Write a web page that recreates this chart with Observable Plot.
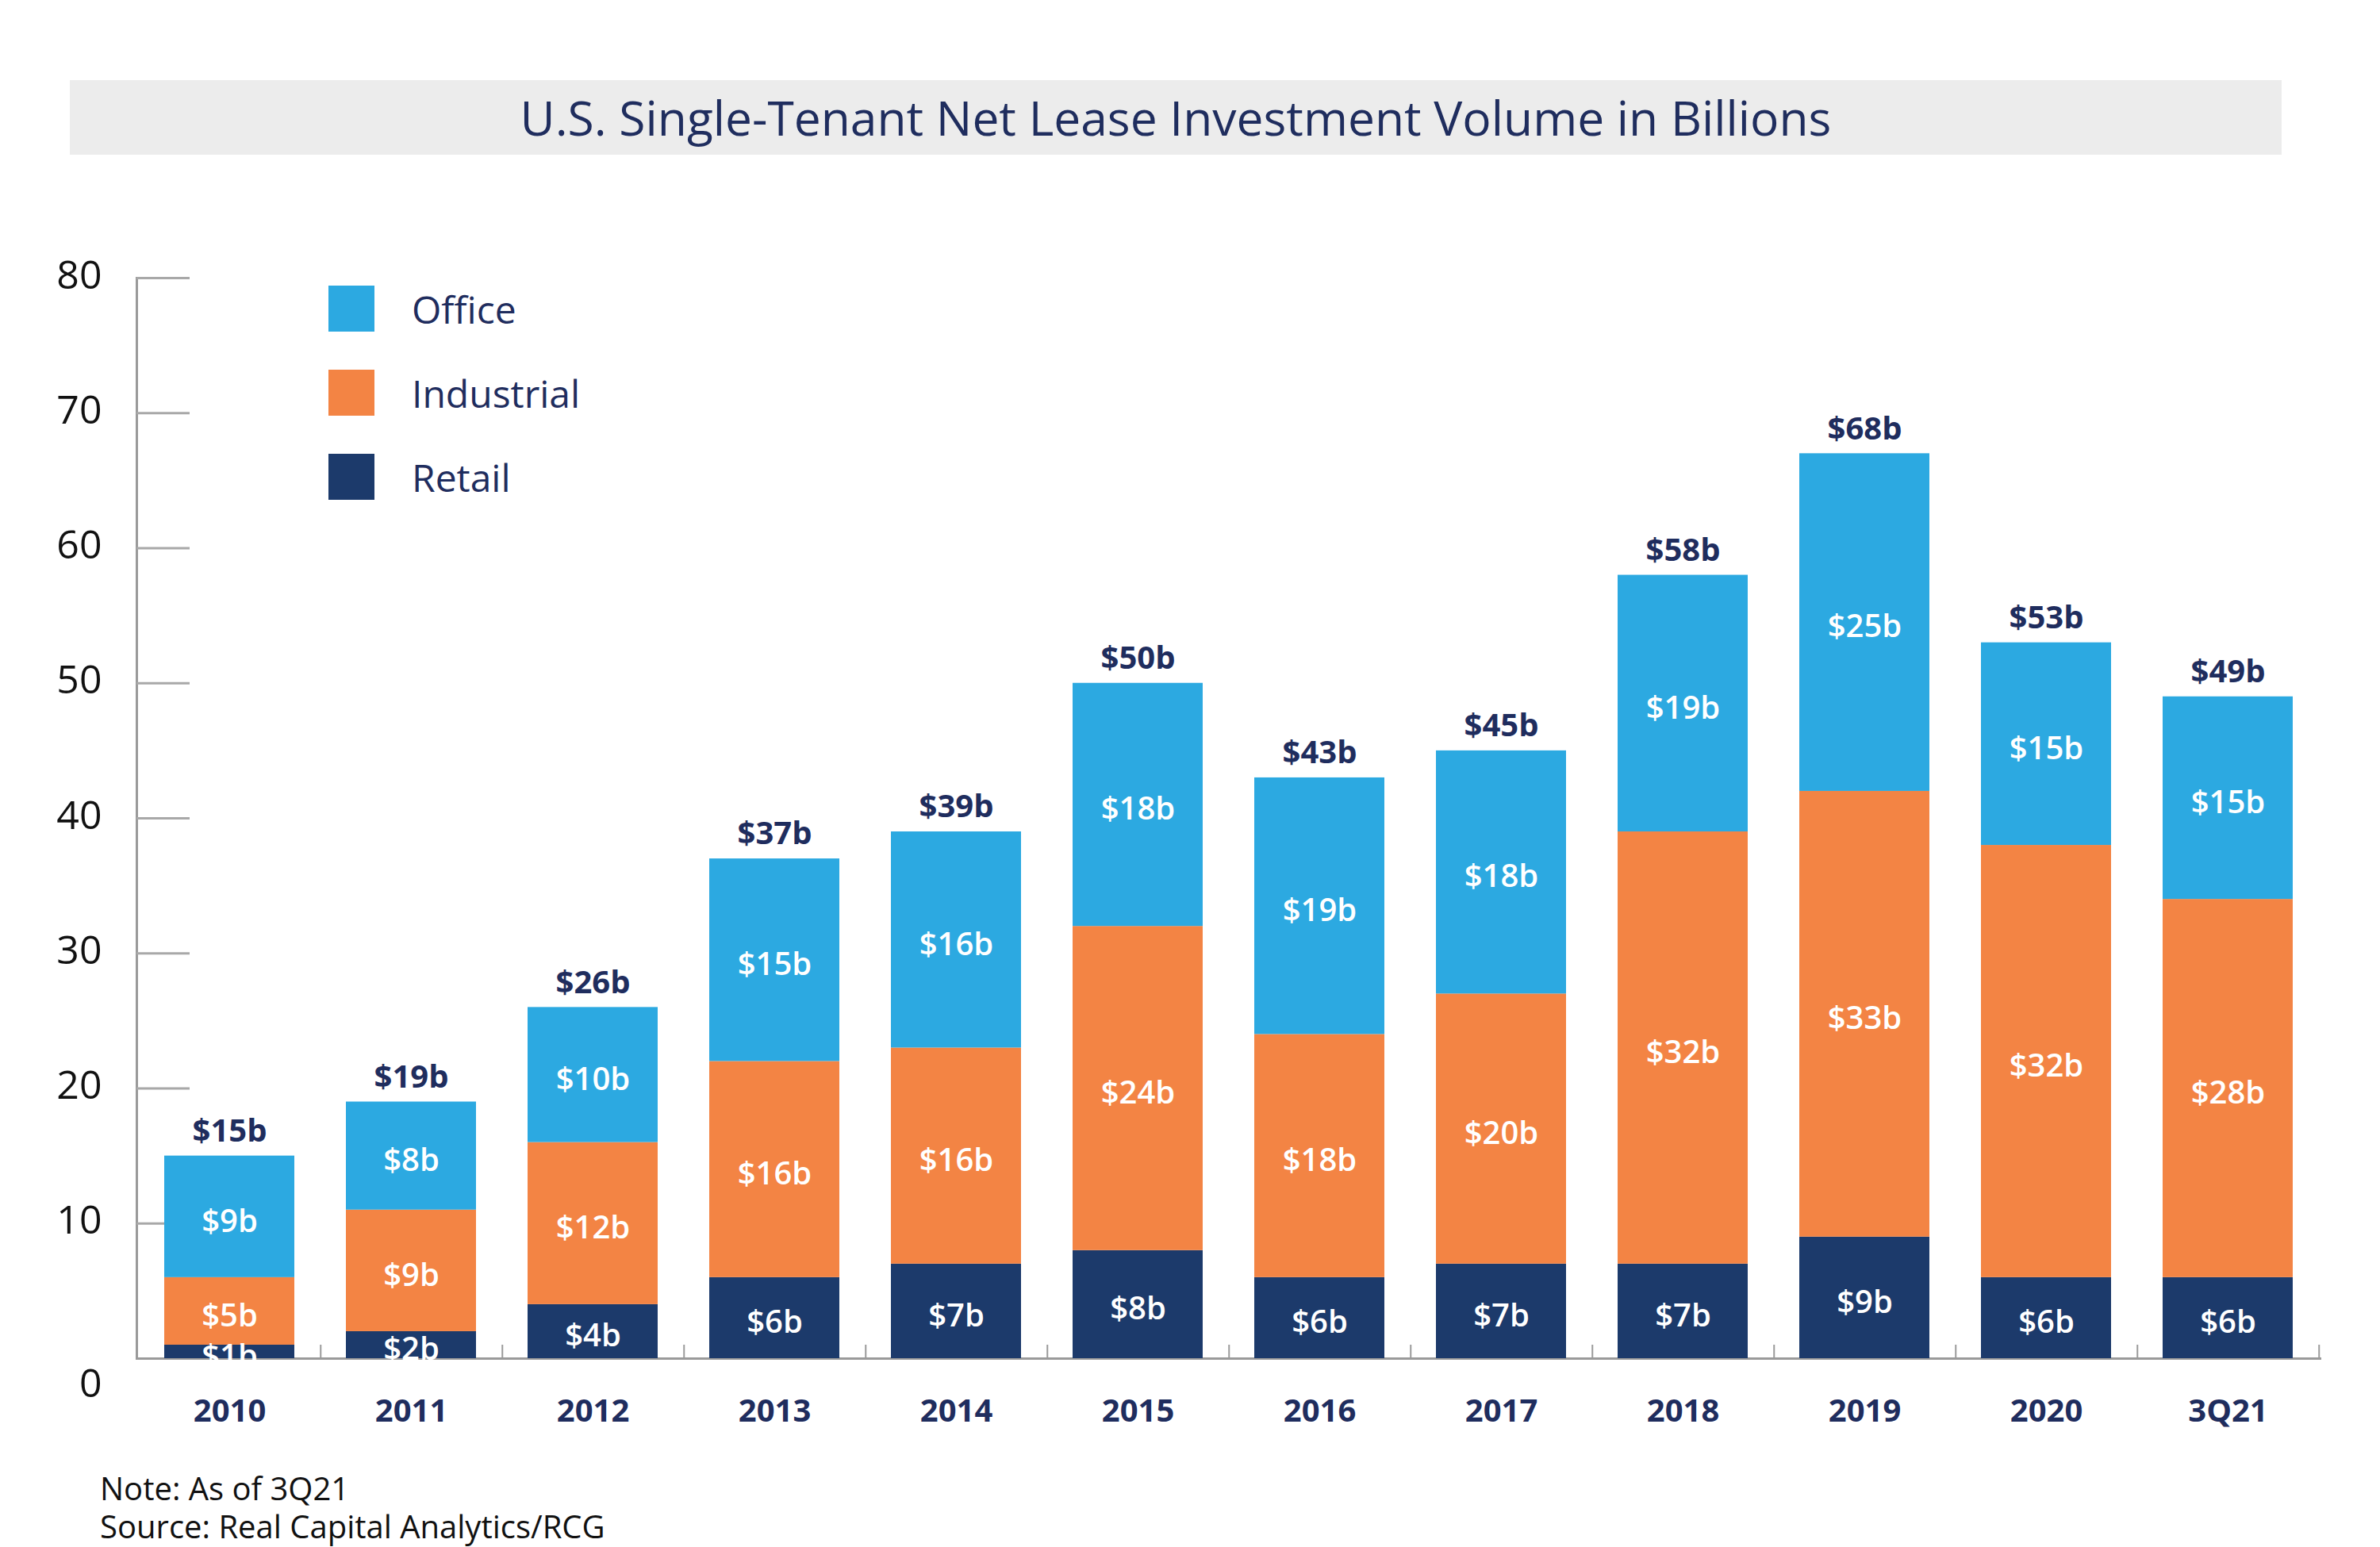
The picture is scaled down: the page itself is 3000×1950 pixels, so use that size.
<!DOCTYPE html>
<html>
<head>
<meta charset="utf-8">
<script src="https://cdn.jsdelivr.net/npm/d3@7"></script>
<script src="https://cdn.jsdelivr.net/npm/@observablehq/plot@0.6"></script>
<style>
  html, body { margin: 0; padding: 0; background: #fff; width: 3000px; height: 1950px; overflow: hidden; font-family: "Open Sans", sans-serif; }
  #title { position: absolute; left: 88px; top: 101px; width: 2788px; height: 94px; background: #ececec;
           color: #1f2d5e; font-size: 60.5px; line-height: 94px; text-align: center; }
  #chart { position: absolute; left: 0; top: 230px; }
  #legend { position: absolute; left: 414px; top: 360px; }
  .row { display: flex; align-items: center; height: 58px; margin-bottom: 48px; }
  .sw { width: 58px; height: 58px; margin-right: 47px; }
  .lt { font-size: 48px; color: #1f2d5e; }
  #notes { position: absolute; left: 126px; top: 1852px; font-size: 40px; line-height: 48px; color: #111; }
</style>
</head>
<body>
<div id="title">U.S. Single-Tenant Net Lease Investment Volume in Billions</div>
<div id="chart"></div>
<div id="legend"></div>
<div id="notes">Note: As of 3Q21<br>Source: Real Capital Analytics/RCG</div>
<script>
const categories = ["2010","2011","2012","2013","2014","2015","2016","2017","2018","2019","2020","3Q21"];
const retail     = [1, 2, 4, 6, 7, 8, 6, 7, 7, 9, 6, 6];
const industrial = [5, 9, 12, 16, 16, 24, 18, 20, 32, 33, 32, 28];
const office     = [9, 8, 10, 15, 16, 18, 19, 18, 19, 25, 15, 15];
const totals     = [15, 19, 26, 37, 39, 50, 43, 45, 58, 68, 53, 49];
const seriesNames = ["Retail", "Industrial", "Office"];
const seriesColors = ["#1c3a6b", "#f38444", "#2ca9e1"];
const legendOrder = ["Office", "Industrial", "Retail"];
const yTicks = [0, 10, 20, 30, 40, 50, 60, 70, 80];

const seriesValues = {Retail: retail, Industrial: industrial, Office: office};
const rows = [];
categories.forEach((c, i) => {
  seriesNames.forEach(s => rows.push({cat: c, type: s, value: seriesValues[s][i]}));
});
const tops = categories.map((c, i) => ({cat: c, top: retail[i] + industrial[i] + office[i], label: "$" + totals[i] + "b"}));

const navy = "#1f2d5e";
const chart = Plot.plot({
  width: 3000,
  height: 1620,
  marginTop: 120,
  marginBottom: 138,
  marginLeft: 172,
  marginRight: 74,
  style: {fontFamily: "'Open Sans', sans-serif", background: "transparent", overflow: "visible"},
  x: {domain: categories, paddingInner: 0.283, paddingOuter: 0.1415, align: 0.5, label: null},
  y: {domain: [0, 80], label: null},
  color: {domain: seriesNames, range: seriesColors},
  marks: [
    Plot.frame({anchor: "left", stroke: "#9a9a9a", strokeWidth: 3}),
    Plot.axisY({ticks: yTicks, tickSize: 67, dx: 67, tickFormat: () => "", stroke: "#a8a8a8", strokeWidth: 3, label: null}),
    Plot.axisY({ticks: yTicks.filter(d => d > 0), tickSize: 0, tickPadding: 44, fontSize: 50, fill: "#111", dy: -3, label: null}),
    Plot.axisY({ticks: [0], tickSize: 0, tickPadding: 44, fontSize: 50, fill: "#111", dy: 32, label: null}),
    Plot.ruleY([0], {stroke: "#9a9a9a", strokeWidth: 3}),
    Plot.axisX({tickSize: 17, dy: -17, dx: 114.75, tickFormat: () => "", stroke: "#9a9a9a", strokeWidth: 2, label: null}),
    Plot.axisX({tickSize: 0, tickPadding: 51, fontSize: 40, fontWeight: "bold", fill: navy, label: null}),
    Plot.barY(rows, Plot.stackY({x: "cat", y: "value", fill: "type", order: seriesNames})),
    Plot.text(rows, Plot.stackY({x: "cat", y: "value", z: "type", order: seriesNames,
      text: d => "$" + d.value + "b", fill: "white", fontSize: 40, fontWeight: 600, dy: 6})),
    Plot.text(tops, {x: "cat", y: "top", text: "label", dy: -31, fill: navy, fontSize: 40, fontWeight: "bold"})
  ]
});
document.getElementById("chart").appendChild(chart);

const legend = document.getElementById("legend");
legendOrder.forEach(name => {
  const row = document.createElement("div");
  row.className = "row";
  const sw = document.createElement("div");
  sw.className = "sw";
  sw.style.background = seriesColors[seriesNames.indexOf(name)];
  const lt = document.createElement("div");
  lt.className = "lt";
  lt.textContent = name;
  row.appendChild(sw); row.appendChild(lt);
  legend.appendChild(row);
});
</script>
</body>
</html>
